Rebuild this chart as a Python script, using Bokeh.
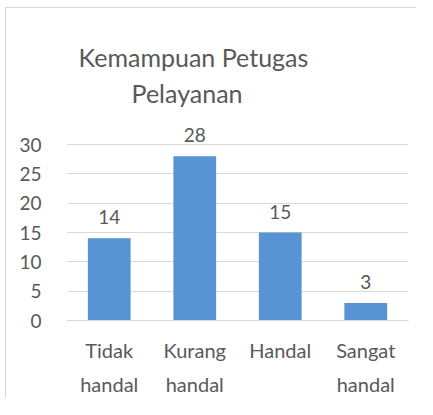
from bokeh.plotting import figure
from bokeh.models import FactorRange, Range1d, FixedTicker, ColumnDataSource
from bokeh.core.properties import value
from bokeh.embed import file_html
from bokeh.resources import INLINE

categories = ["Tidak\nhandal", "Kurang\nhandal", "Handal", "Sangat\nhandal"]
counts = [14, 28, 15, 3]
y_ticks = [0, 5, 10, 15, 20, 25, 30]
title_lines = ["Kemampuan Petugas", "Pelayanan"]

FONT = "Lato"
TXT = "#595959"

src = ColumnDataSource(dict(cat=categories, val=counts, lab=[str(v) for v in counts]))

p = figure(width=411, height=391, output_backend="svg", toolbar_location=None,
           x_range=FactorRange(*categories, range_padding=0), y_range=Range1d(0, 52.33),
           min_border_left=60, min_border_right=9, min_border_top=5, min_border_bottom=72)
p.styles = {"border-left": "1px solid #d9d9d9", "border-top": "1px solid #d9d9d9",
            "margin-left": "5px", "margin-top": "7px"}
p.outline_line_color = None
p.background_fill_color = "white"

p.vbar(x="cat", top="val", width=0.5, source=src, fill_color="#5893d4", line_color=None)
p.text(x="cat", y="val", text="lab", source=src, text_align="center", text_baseline="alphabetic",
       y_offset=-21, text_font=value(FONT), text_font_size="19px", text_color=TXT)

# title as two lines of text
p.text(x=[1.485], y=[44.95], text=[title_lines[0]], text_align="center", text_baseline="alphabetic",
       text_font=value(FONT), text_font_size="25px", text_color=TXT)
p.text(x=[1.41], y=[38.75], text=[title_lines[1]], text_align="center", text_baseline="alphabetic",
       text_font=value(FONT), text_font_size="25px", text_color=TXT)

p.yaxis.ticker = FixedTicker(ticks=y_ticks)
p.yaxis.axis_line_color = None
p.yaxis.major_tick_line_color = None
p.yaxis.minor_tick_line_color = None
p.yaxis.major_label_standoff = 19
p.yaxis.major_label_text_font = FONT
p.yaxis.major_label_text_font_size = "19px"
p.yaxis.major_label_text_color = TXT

p.xaxis.axis_line_color = "#d9d9d9"
p.xaxis.major_tick_line_color = None
p.xaxis.minor_tick_line_color = None
p.xaxis.major_label_standoff = 11
p.xaxis.major_label_text_font = FONT
p.xaxis.major_label_text_font_size = "20px"
p.xaxis.major_label_text_color = TXT
p.xaxis.major_label_text_line_height = 1.45
p.xaxis.major_label_orientation = "horizontal"

p.xgrid.grid_line_color = None
p.ygrid.grid_line_color = "#d9d9d9"
p.ygrid.ticker = FixedTicker(ticks=y_ticks)

open("out.html", "w").write(file_html(p, INLINE))
